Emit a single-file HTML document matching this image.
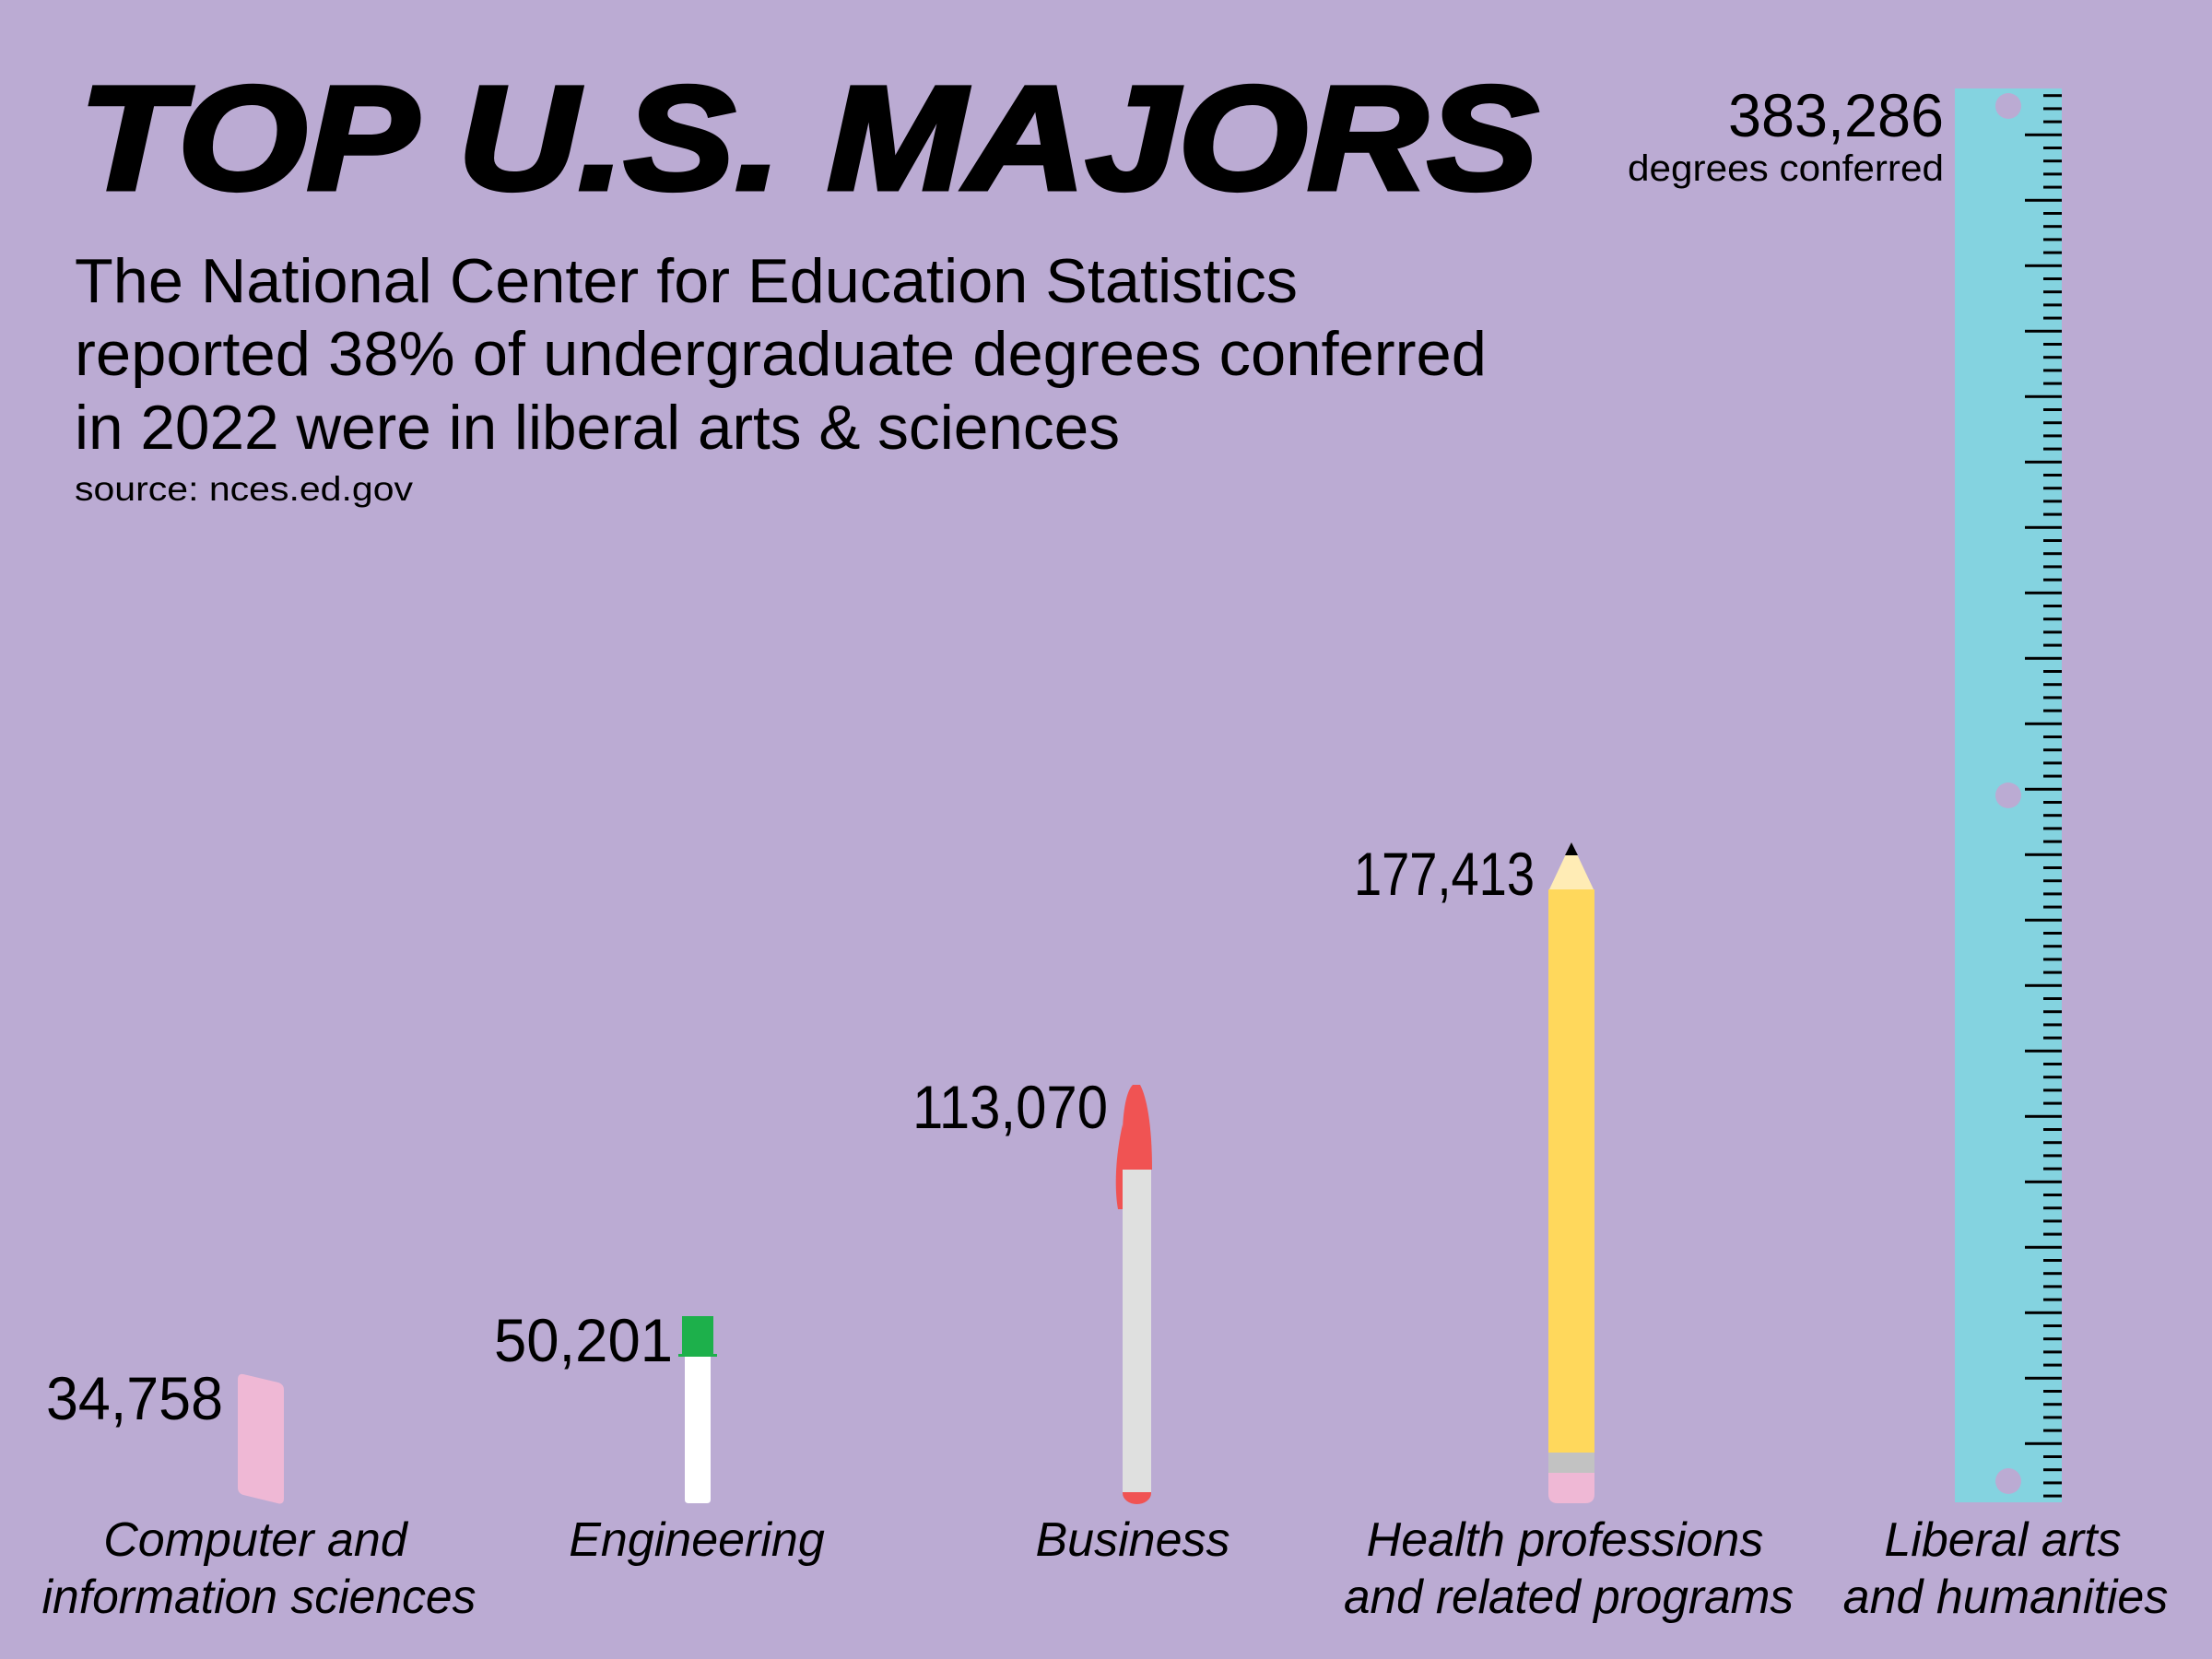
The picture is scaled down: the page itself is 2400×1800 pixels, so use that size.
<!DOCTYPE html>
<html><head><meta charset="utf-8"><style>
html,body{margin:0;padding:0;background:#BBABD3;}
svg{display:block;}
text{font-family:"Liberation Sans",sans-serif;fill:#000;}
</style></head><body>
<svg width="2400" height="1800" viewBox="0 0 2400 1800" xmlns="http://www.w3.org/2000/svg">
<rect width="2400" height="1800" fill="#BBABD3"/>
<text x="86" y="205" font-size="160" font-weight="bold" font-style="italic" stroke="#000" stroke-width="5" textLength="1583" lengthAdjust="spacingAndGlyphs">TOP U.S. MAJORS</text>
<text x="81" y="328" font-size="68" textLength="1327" lengthAdjust="spacingAndGlyphs">The National Center for Education Statistics</text>
<text x="81" y="407" font-size="68" textLength="1532" lengthAdjust="spacingAndGlyphs">reported 38% of undergraduate degrees conferred</text>
<text x="81" y="487" font-size="68" textLength="1134" lengthAdjust="spacingAndGlyphs">in 2022 were in liberal arts &amp; sciences</text>
<text x="81" y="543" font-size="37" textLength="367" lengthAdjust="spacingAndGlyphs">source: nces.ed.gov</text>

<text x="1875" y="148" font-size="66" textLength="234" lengthAdjust="spacingAndGlyphs">383,286</text>
<text x="1766" y="196" font-size="40" textLength="343" lengthAdjust="spacingAndGlyphs">degrees conferred</text>
<text x="1469" y="971" font-size="66" textLength="196" lengthAdjust="spacingAndGlyphs">177,413</text>
<text x="990" y="1224" font-size="66" textLength="212" lengthAdjust="spacingAndGlyphs">113,070</text>
<text x="536" y="1477" font-size="66" textLength="194" lengthAdjust="spacingAndGlyphs">50,201</text>
<text x="50" y="1540" font-size="66" textLength="192" lengthAdjust="spacingAndGlyphs">34,758</text>

<g font-size="52" font-style="italic" text-anchor="middle">
<text x="277" y="1688">Computer and</text>
<text x="281" y="1750" textLength="471" lengthAdjust="spacingAndGlyphs">information sciences</text>
<text x="756" y="1688">Engineering</text>
<text x="1229" y="1688">Business</text>
<text x="1698" y="1688">Health professions</text>
<text x="1702" y="1750" textLength="488" lengthAdjust="spacingAndGlyphs">and related programs</text>
<text x="2173" y="1688">Liberal arts</text>
<text x="2176" y="1750">and humanities</text>
</g>

<path d="M264,1491 L302,1500 Q308,1502 308,1508 L308,1626 Q308,1633 301,1631 L264,1622 Q258,1620 258,1614 L258,1497 Q258,1490 264,1491 Z" fill="#EFB8D5"/>

<path d="M743,1472 L771,1472 L771,1627 Q771,1631 767,1631 L747,1631 Q743,1631 743,1627 Z" fill="#fff"/>
<rect x="740" y="1428" width="34" height="44" fill="#1DB04B"/>
<rect x="736" y="1469" width="42" height="3" fill="#1DB04B"/>

<rect x="1218" y="1269" width="31" height="350" fill="#DFE0DF"/>
<path d="M1218,1619 L1249,1619 L1249,1620 A15.5,12 0 0 1 1218,1620 Z" fill="#F05353"/>
<path d="M1218,1269 L1218,1225 C1219,1200 1223,1183 1229,1177 L1237,1177 C1244,1190 1250,1220 1250,1269 Z" fill="#F05353"/>
<path d="M1213,1312 C1209,1290 1210,1255 1218,1220 L1218,1312 Z" fill="#F05353"/>

<path d="M1681,965 L1729,965 L1705,914 Z" fill="#FFECB5"/>
<path d="M1698,928 L1712,928 L1705,914 Z" fill="#000"/>
<rect x="1680" y="965" width="50" height="611" fill="#FFD85C"/>
<rect x="1680" y="1576" width="50" height="22" fill="#C2C2C2"/>
<path d="M1680,1598 L1730,1598 L1730,1621 Q1730,1631 1720,1631 L1690,1631 Q1680,1631 1680,1621 Z" fill="#EFB8D5"/>

<rect x="2121" y="96" width="116" height="1534" fill="#84D3E0"/>
<circle cx="2179" cy="115" r="14" fill="#BBABD3"/>
<circle cx="2179" cy="863" r="14" fill="#BBABD3"/>
<circle cx="2179" cy="1607" r="14" fill="#BBABD3"/>
<g id="ticks" fill="#000"></g>
</svg>
<script>
(function(){
 var g=document.getElementById('ticks'),ns='http://www.w3.org/2000/svg';
 for(var i=0;i<108;i++){
  var y=103.7+i*14.2; if(y>1628) break;
  var long=(i%5)==3;
  var r=document.createElementNS(ns,'rect');
  r.setAttribute('x',long?2197:2217);r.setAttribute('y',(y-1.5).toFixed(1));
  r.setAttribute('width',long?40:20);r.setAttribute('height',3);
  g.appendChild(r);
 }
})();
</script>
</body></html>
